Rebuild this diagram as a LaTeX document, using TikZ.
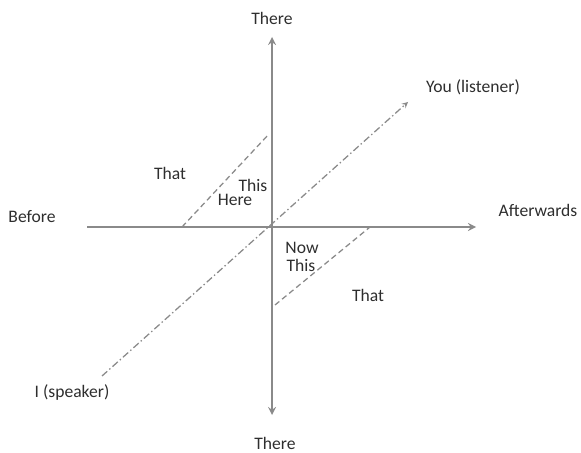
\documentclass[tikz,border=0pt]{standalone}
\usepackage{fontspec}
\setmainfont{Carlito}
\usetikzlibrary{arrows}
\definecolor{axgray}{HTML}{8A8A8A}
\definecolor{txgray}{HTML}{2E2E2E}
\tikzset{
  axis/.style={->, >=stealth, draw=axgray, line width=1.5pt},
  tie/.style={draw=axgray, line width=0.9pt, dash pattern=on 4pt off 2.5pt},
  pers/.style={->, >=stealth, draw=axgray, line width=0.9pt, dash pattern=on 5pt off 2pt on 1pt off 2pt},
  lab/.style={font=\fontsize{12.5}{14}\selectfont, text=txgray, inner sep=1pt}
}

\begin{document}
\begin{tikzpicture}[x=0.025cm, y=-0.025cm]
	\useasboundingbox (0,0) rectangle (581,453);
	% axes
	\coordinate (w) at (87,227);
	\coordinate (e) at (476,227);
	\coordinate (n) at (272,37);
	\coordinate (s) at (272,415);
	\draw[axis] (w) -- (e);
	\draw[axis, <->] (s) -- (n);
	\node[lab] (before) at (32,217) {Before};
	\node[lab] (after) at (538,210) {Afterwards};
	\node[lab] (thereup) at (272,18) {There};
	\node[lab] (theredn) at (275,443) {There};
	% speaker -- listener
	\coordinate (spk) at (102,376);
	\coordinate (lis) at (408,102);
	\draw[pers] (spk) -- (lis);
	\node[lab] (you) at (473,87) {You (listener)};
	\node[lab] (me) at (72,392) {I (speaker)};
	% near and far
	\coordinate (a1) at (182,227);
	\coordinate (a2) at (269,134);
	\coordinate (b1) at (275,305);
	\coordinate (b2) at (370,227);
	\draw[tie] (a1) -- (a2);
	\draw[tie] (b1) -- (b2);
	\node[lab] (that1) at (170,173) {That};
	\node[lab] (this1) at (253,185) {This};
	\node[lab] (here) at (235,200) {Here};
	\node[lab] (now) at (302,248) {Now};
	\node[lab] (this2) at (301,265) {This};
	\node[lab] (that2) at (368,295) {That};
\end{tikzpicture}
\end{document}
